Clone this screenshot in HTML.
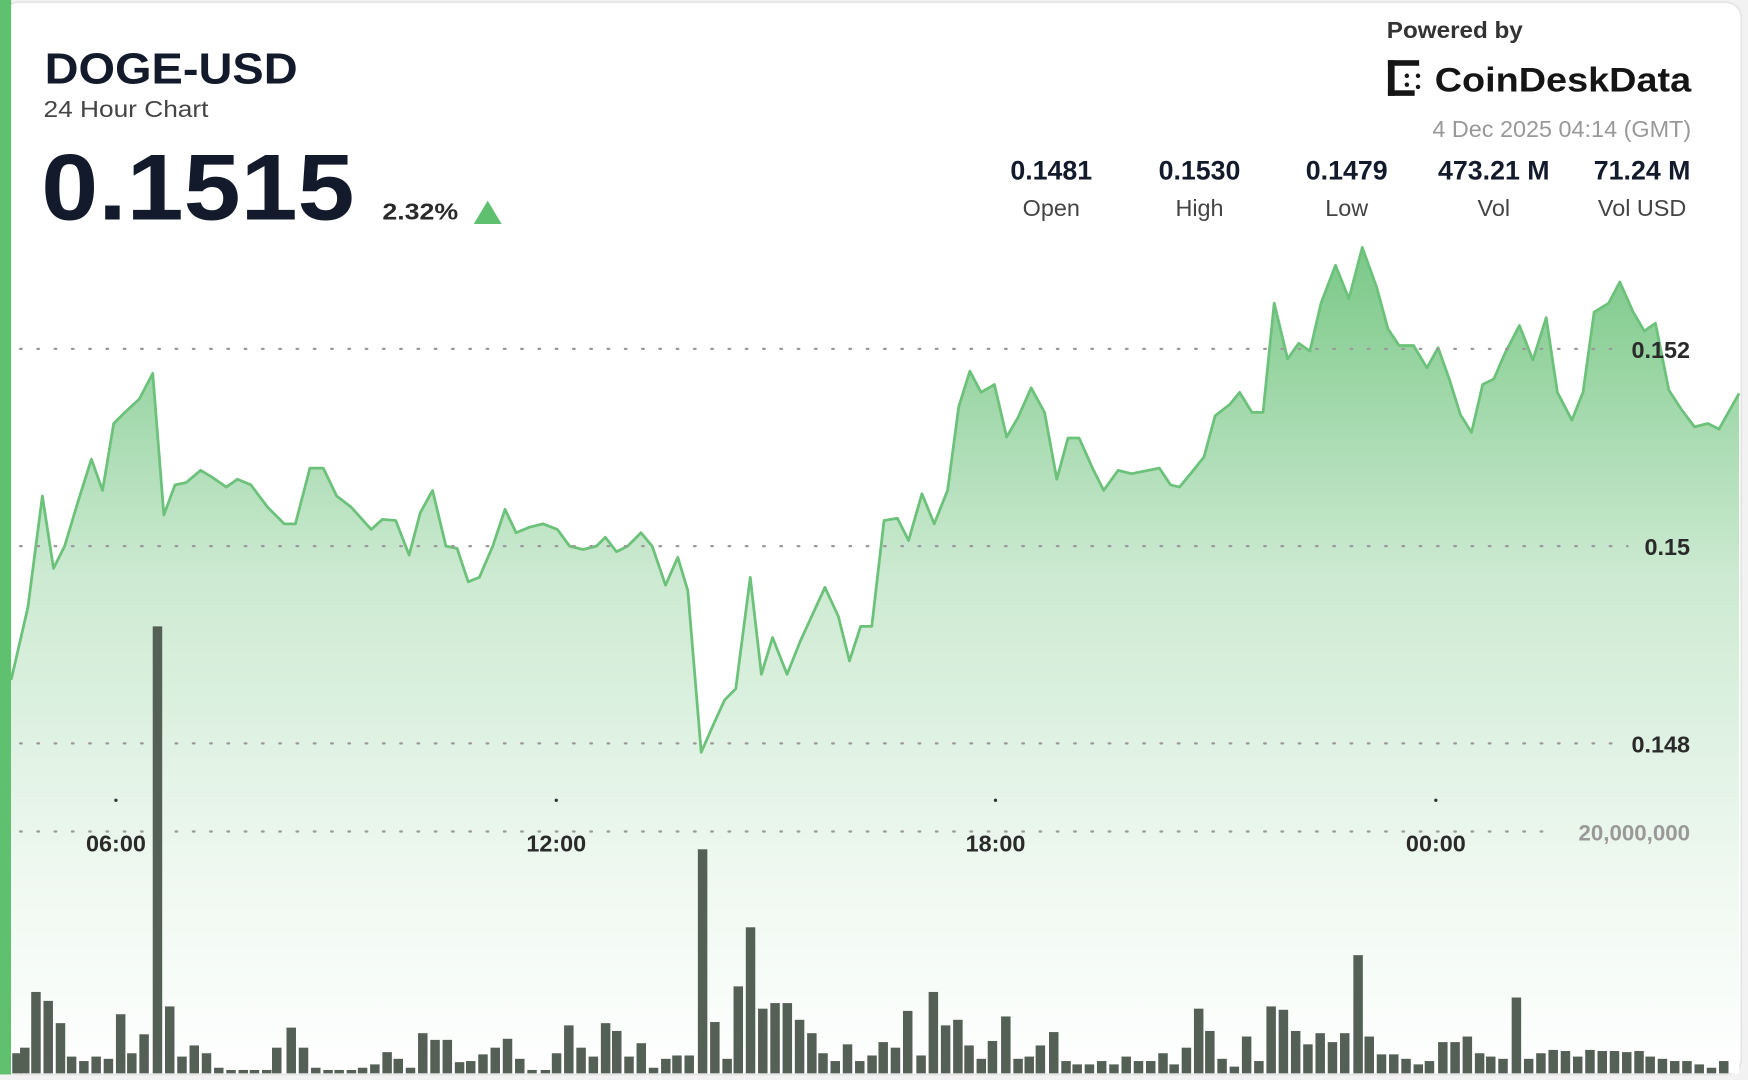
<!DOCTYPE html>
<html><head><meta charset="utf-8"><style>
html,body{margin:0;padding:0;background:#fff;}
svg{display:block;}
text{font-family:"Liberation Sans",sans-serif;}
</style></head><body>
<svg width="1748" height="1080" viewBox="0 0 1568 969" preserveAspectRatio="none">
<defs>
<linearGradient id="g" x1="0" y1="220" x2="0" y2="965" gradientUnits="userSpaceOnUse">
<stop offset="0" stop-color="#7ac887"/>
<stop offset="0.4" stop-color="#cdeAd2"/>
<stop offset="0.75" stop-color="#eef8f0"/>
<stop offset="1" stop-color="#ffffff"/>
</linearGradient>
</defs>
<rect x="0" y="0" width="1568" height="969" fill="#f2f2f2"/>
<rect x="2" y="2" width="1560" height="962" rx="14" fill="#fff" stroke="#e4e4e4" stroke-width="1.5"/>
<rect x="0" y="0" width="10" height="964" fill="#5fc070"/>
<g id="area"></g>
<g stroke="#9a9a9a" stroke-width="2" stroke-dasharray="1.5 14" stroke-linecap="round">
<line x1="18" y1="313" x2="1450" y2="313"/>
<line x1="18" y1="490" x2="1460" y2="490"/>
<line x1="18" y1="667" x2="1450" y2="667"/>
<line x1="18" y1="746" x2="1390" y2="746"/>
</g>
<g fill="#333"><circle cx="104" cy="718" r="1.5"/><circle cx="499" cy="718" r="1.5"/><circle cx="893" cy="718" r="1.5"/><circle cx="1288" cy="718" r="1.5"/></g>
<g font-size="21" font-weight="bold" fill="#2a2a2a" text-anchor="middle">
<text x="104" y="764">06:00</text><text x="499" y="764">12:00</text><text x="893" y="764">18:00</text><text x="1288" y="764">00:00</text>
</g>
<g font-size="21" font-weight="bold" fill="#2a2a2a" text-anchor="end">
<text x="1516" y="321">0.152</text><text x="1516" y="498">0.15</text><text x="1516" y="675">0.148</text>
</g>
<text x="1516" y="754" font-size="20" font-weight="bold" fill="#999" text-anchor="end">20,000,000</text>
<g id="bars" fill="#545f55"></g>
<text x="40" y="75" font-size="39" font-weight="bold" fill="#121a2b" textLength="227" lengthAdjust="spacingAndGlyphs">DOGE-USD</text>
<text x="39" y="105" font-size="21" fill="#444" textLength="148" lengthAdjust="spacingAndGlyphs">24 Hour Chart</text>
<text x="37" y="197" font-size="84" font-weight="bold" fill="#121a2b" textLength="281" lengthAdjust="spacingAndGlyphs">0.1515</text>
<text x="343" y="197" font-size="21" font-weight="bold" fill="#2a2a2a" textLength="68" lengthAdjust="spacingAndGlyphs">2.32%</text>
<polygon points="425,201 450,201 437.5,180" fill="#5fc070"/>
<text x="1305" y="34" font-size="21" font-weight="bold" fill="#333" text-anchor="middle" textLength="122" lengthAdjust="spacingAndGlyphs">Powered by</text>
<g fill="#151515"><rect x="1245" y="54" width="6" height="32"/><rect x="1245" y="54" width="28" height="5"/><rect x="1245" y="81" width="24" height="5"/><circle cx="1262" cy="68" r="2"/><circle cx="1272" cy="68" r="2"/><circle cx="1262" cy="76" r="2"/><circle cx="1272" cy="78" r="2"/></g>
<text x="1287" y="82" font-size="31" font-weight="bold" fill="#151515" textLength="230" lengthAdjust="spacingAndGlyphs">CoinDeskData</text>
<text x="1517" y="123" font-size="21" fill="#999" text-anchor="end">4 Dec 2025 04:14 (GMT)</text>
<g font-size="24" font-weight="bold" fill="#121a2b" text-anchor="middle">
<text x="943" y="161">0.1481</text><text x="1076" y="161">0.1530</text><text x="1208" y="161">0.1479</text><text x="1340" y="161">473.21 M</text><text x="1473" y="161">71.24 M</text>
</g>
<g font-size="21" fill="#444" text-anchor="middle">
<text x="943" y="194">Open</text><text x="1076" y="194">High</text><text x="1208" y="194">Low</text><text x="1340" y="194">Vol</text><text x="1473" y="194">Vol USD</text>
</g>
</svg>
<script>
var pts=[[10,610],[25,545],[38,445],[48,510],[58,490],[70,450],[82,412],[92,440],[102,380],[112,370],[125,358],[137,335],[147,462],[157,435],[167,433],[180,422],[190,428],[203,437],[213,430],[225,435],[240,455],[255,470],[265,470],[278,420],[290,420],[302,445],[315,455],[333,475],[343,466],[355,467],[367,498],[377,460],[388,440],[400,490],[410,492],[420,522],[430,518],[442,490],[453,457],[463,478],[475,473],[487,470],[500,475],[511,490],[523,493],[535,490],[543,482],[553,495],[563,490],[575,478],[585,490],[597,525],[608,500],[617,530],[629,675],[640,650],[650,628],[660,618],[673,518],[683,605],[693,572],[706,605],[718,575],[740,527],[752,553],[762,593],[772,562],[782,562],[793,467],[805,465],[815,485],[827,443],[838,470],[850,440],[860,365],[870,333],[880,352],[892,345],[903,392],[913,375],[925,348],[937,370],[948,430],[958,393],[968,393],[980,420],[990,440],[1003,422],[1015,425],[1030,422],[1040,420],[1050,435],[1058,437],[1068,425],[1080,410],[1090,373],[1103,363],[1112,352],[1123,370],[1133,370],[1143,272],[1155,322],[1165,308],[1175,315],[1185,272],[1198,238],[1210,268],[1222,222],[1235,258],[1245,295],[1255,310],[1268,310],[1280,330],[1290,312],[1300,340],[1310,372],[1320,388],[1330,345],[1340,340],[1350,317],[1363,292],[1375,323],[1387,285],[1397,352],[1410,377],[1420,352],[1430,280],[1443,272],[1453,253],[1465,280],[1475,297],[1485,290],[1497,350],[1508,367],[1520,383],[1532,380],[1542,385],[1560,353]];
var s=pts.map(function(p){return p[0]+','+p[1]}).join(' ');
var NS='http://www.w3.org/2000/svg';
var a=document.getElementById('area');
var pg=document.createElementNS(NS,'polygon');pg.setAttribute('points',s+' 1560,963 10,963');pg.setAttribute('fill','url(#g)');a.appendChild(pg);
var pl=document.createElementNS(NS,'polyline');pl.setAttribute('points',s);pl.setAttribute('fill','none');pl.setAttribute('stroke','#6cc27a');pl.setAttribute('stroke-width','2.5');pl.setAttribute('stroke-linejoin','round');a.appendChild(pl);
var b=[[15,945],[22,940],[32,890],[43,898],[54,918],[64,948],[75,952],[86,948],[97,950],[108,910],[118,945],[129,928],[141,562],[152,903],[163,948],[174,938],[185,945],[196,958],[207,960],[218,960],[228,960],[239,960],[248,940],[261,922],[272,940],[283,958],[294,960],[304,960],[315,960],[325,958],[336,955],[347,944],[357,950],[368,958],[379,927],[390,933],[401,933],[412,953],[422,952],[433,946],[444,940],[455,932],[466,950],[477,960],[489,960],[499,945],[510,920],[521,940],[532,948],[543,918],[553,925],[564,948],[575,936],[586,958],[597,950],[607,947],[618,947],[630,762],[641,917],[652,950],[662,885],[673,832],[684,905],[695,900],[706,900],[717,915],[728,927],[738,945],[749,952],[760,937],[771,952],[782,947],[792,935],[803,940],[814,907],[826,947],[837,890],[848,920],[859,915],[869,938],[880,950],[890,934],[902,912],[913,950],[923,948],[933,938],[945,926],[956,952],[966,955],[977,955],[988,952],[999,955],[1010,948],[1021,952],[1032,952],[1043,945],[1053,955],[1064,940],[1075,905],[1085,925],[1096,950],[1107,957],[1118,930],[1129,952],[1140,903],[1151,906],[1162,925],[1173,937],[1184,927],[1195,935],[1206,927],[1218,857],[1228,930],[1239,946],[1250,946],[1261,950],[1272,955],[1282,952],[1294,935],[1305,935],[1316,930],[1327,945],[1337,948],[1348,950],[1360,895],[1371,950],[1382,945],[1393,942],[1404,943],[1415,948],[1426,942],[1437,943],[1448,943],[1459,944],[1470,943],[1480,948],[1491,950],[1502,952],[1513,952],[1524,955],[1535,958],[1546,952]];
var g=document.getElementById('bars');
b.forEach(function(p){var r=document.createElementNS(NS,'rect');r.setAttribute('x',p[0]-4);r.setAttribute('y',p[1]);r.setAttribute('width',8.5);r.setAttribute('height',963-p[1]);g.appendChild(r);});
</script>
</body></html>
